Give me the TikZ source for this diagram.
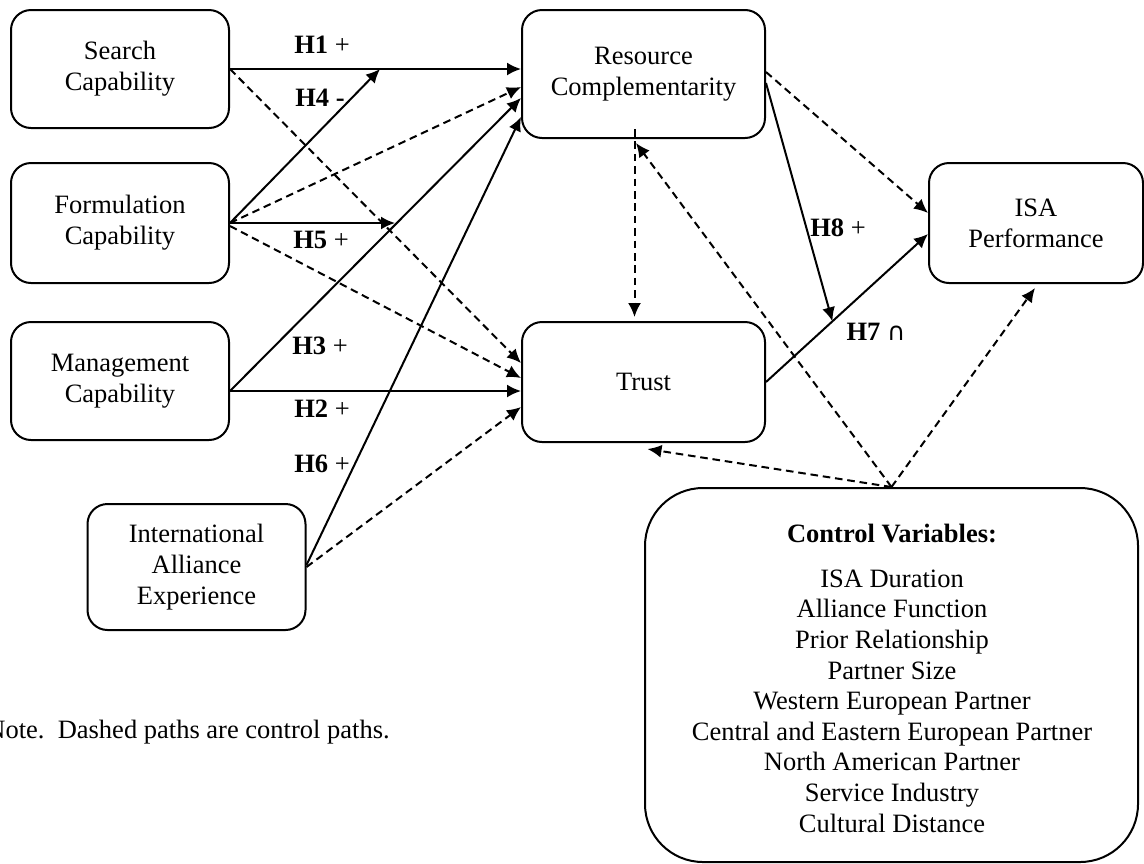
\documentclass[tikz,border=0pt]{standalone}
\usepackage{fontspec}
\setmainfont{Liberation Serif}
\newfontfamily\symfont{DejaVu Sans}
\usetikzlibrary{arrows.meta,calc}
\newcommand\bodyfont{\fontsize{13.25pt}{15.5pt}\selectfont}
\newcommand\ctrlfont{\fontsize{13.25pt}{15.3pt}\selectfont}
\begin{document}
\begin{tikzpicture}[x=0.5pt,y=-0.5pt,
  box/.style={draw, line width=1pt, rounded corners=10pt, align=center, inner sep=0pt, font=\bodyfont},
  ctrlbox/.style={draw, line width=1pt, rounded corners=29pt, inner sep=0pt},
  lbl/.style={inner sep=0pt, font=\bodyfont},
  hyp/.style={line width=1pt, -{Latex[length=7pt,width=6.5pt]}},
  ctrl/.style={line width=1pt, dash pattern=on 3.8pt off 2.4pt, -{Latex[length=7pt,width=6.5pt]}}]
\useasboundingbox (0,0) rectangle (1144,863);

% boxes
\node[box, minimum width=109pt, minimum height=59pt] (S) at (120,69) {Search\\Capability};
\node[box, minimum width=109pt, minimum height=60pt] (F) at (120,223) {Formulation\\Capability};
\node[box, minimum width=109pt, minimum height=59pt] (M) at (120,381) {Management\\Capability};
\node[box, minimum width=109pt, minimum height=63pt] (I) at (196.5,567) {International\\Alliance\\Experience};
\node[box, minimum width=121.5pt, minimum height=64pt] (R) at (643.5,74) {Resource\\Complementarity};
\node[box, minimum width=121.5pt, minimum height=60pt] (T) at (643.5,382) {Trust};
\node[box, minimum width=107pt, minimum height=60pt] (P) at (1036,223) {ISA\\Performance};
\node[ctrlbox, minimum width=246.5pt, minimum height=187pt] (C) at (891.5,675) {};
\node[lbl, font=\bodyfont\bfseries] (cvt) at (892,533) {Control Variables:};
\node[lbl, align=center, font=\ctrlfont] (cvl) at (892,701) {ISA Duration\\Alliance Function\\Prior Relationship\\Partner Size\\Western European Partner\\Central and Eastern European Partner\\North American Partner\\Service Industry\\Cultural Distance};

% note
\node[lbl, anchor=west] (note) at (-14,732) {Note.\ \ Dashed paths are control paths.};

% helper coordinates
\coordinate (h4tip) at (380,69);
\coordinate (h5tip) at (395,223);
\coordinate (h7end) at ($(P.west)+(0,11)$);
\coordinate (h8tip) at ($(T.east)!0.41!(h7end)$);

% dashed control paths
\draw[ctrl] (S.east) -- ($(T.west)+(0,-19)$);
\draw[ctrl] (F.east) -- ($(R.west)+(0,13)$);
\draw[ctrl] ($(F.east)+(0,3)$) -- ($(T.west)+(0,-4)$);
\draw[ctrl] (I.east) -- ($(T.west)+(0,25)$);
\draw[ctrl] ($(R.south)+(-9,-10)$) -- ($(T.north)+(-9,-4)$);
\draw[ctrl] (C.north) -- ($(R.south)+(-7.5,4)$);
\draw[ctrl] (C.north) -- ($(T.south)+(4,6)$);
\draw[ctrl] (C.north) -- ($(P.south)+(-1,4)$);
\draw[ctrl] ($(R.east)+(0,-2)$) -- ($(P.west)+(0,-10)$);

% hypothesised paths
\draw[hyp] (S.east) -- (S.east -| R.west);
\draw[hyp] (F.east) -- (h4tip);
\draw[hyp] (F.east) -- (h5tip);
\draw[hyp] ($(M.east)+(0,10)$) -- ($(R.west)+(0,24)$);
\draw[hyp] ($(M.east)+(0,10)$) -- ($(T.west)+(0,9)$);
\draw[hyp] ($(I.east)+(0,-2)$) -- ($(R.west)+(0,43)$);
\draw[hyp] (T.east) -- (h7end);
\draw[hyp] ($(R.east)+(0,9)$) -- (h8tip);

% labels
\node[lbl] (l1) at (322,45) {\textbf{H1} +};
\node[lbl] (l4) at (320,98) {\textbf{H4 -}};
\node[lbl] (l5) at (321,240) {\textbf{H5} +};
\node[lbl] (l3) at (320,346) {\textbf{H3} +};
\node[lbl] (l2) at (322,409) {\textbf{H2} +};
\node[lbl] (l6) at (322,464) {\textbf{H6} +};
\node[lbl] (l8) at (838,228) {\textbf{H8} +};
\node[lbl] (l7) at (876,332) {\textbf{H7} {\symfont\fontsize{12.5pt}{12.5pt}\selectfont ∩}};
\end{tikzpicture}
\end{document}
